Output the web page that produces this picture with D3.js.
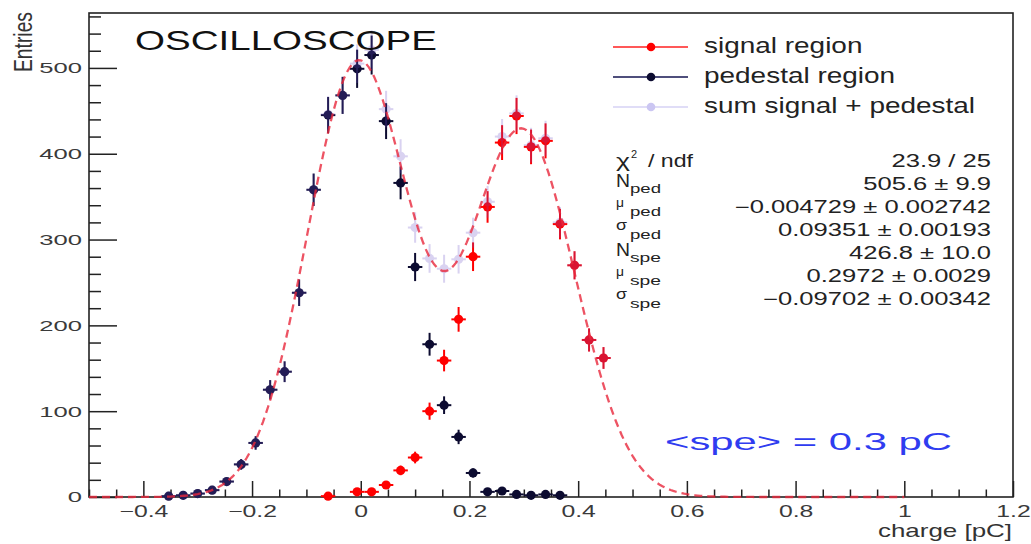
<!DOCTYPE html>
<html>
<head>
<meta charset="utf-8">
<script src="https://cdn.jsdelivr.net/npm/d3@7"></script>
<style>
  body { margin: 0; background: #fff; }
  svg { display: block; font-family: "Liberation Sans", Arial, sans-serif; }
</style>
</head>
<body>
<svg id="chart" width="1031" height="544"></svg>
<script>
// ---- data ----
var binCenters = [-0.3534, -0.3267, -0.3001, -0.2734, -0.2467, -0.2201, -0.1934, -0.1667,
  -0.1401, -0.1134, -0.0867, -0.0601, -0.0334, -0.0067, 0.0200, 0.0466, 0.0733, 0.1000,
  0.1266, 0.1533, 0.1800, 0.2066, 0.2333, 0.2600, 0.2866, 0.3133, 0.3400, 0.3666,
  0.3933, 0.4200, 0.4466];
var binHalfWidth = 0.0133;

var pedestalCounts = [1, 2, 4, 8, 18, 38, 63, 125, 146, 238, 358, 445, 468, 499, 515, 438,
  366, 268, 178, 107, 70, 28, 6, 7, 3, 2, 3, 2, null, null, null];
var pedestalErrors = [1, 1.4, 2, 2.8, 4.2, 6.2, 7.9, 11.2, 12.1, 15.4, 18.9, 21.1, 21.6, 22.3,
  22.7, 20.9, 19.1, 16.4, 13.3, 10.3, 8.4, 5.3, 2.4, 2.6, 1.7, 1.4, 1.7, 1.4, null, null, null];

var signalCounts = [null, null, null, null, null, null, null, null, null, null, null, 1, null,
  6, 6, 14, 31, 46, 100, 159, 207, 280, 338, 413, 444, 408, 415, 318, 270, 183, 162];
var signalErrors = [null, null, null, null, null, null, null, null, null, null, null, 1, null,
  2.4, 2.4, 3.7, 5.6, 6.8, 10, 12.6, 14.4, 16.7, 18.4, 20.3, 21.1, 20.2, 20.4, 17.8, 16.4,
  13.5, 12.7];

var sumCounts = [1, 2, 4, 8, 18, 38, 63, 125, 146, 238, 358, 446, 468, 505, 521, 452, 397,
  314, 278, 266, 277, 308, 344, 420, 447, 410, 418, 320, 270, 183, 162];
var sumErrors = [1, 1.4, 2, 2.8, 4.2, 6.2, 7.9, 11.2, 12.1, 15.4, 18.9, 21.1, 21.6, 22.5, 22.8,
  21.3, 19.9, 17.7, 16.7, 16.3, 16.6, 17.5, 18.5, 20.5, 21.1, 20.2, 20.4, 17.9, 16.4, 13.5, 12.7];

// fit parameters from the stats box
var Nped = 505.6, muPed = -0.004729, sigmaPed = 0.09351;
var Nspe = 426.8, muSpe = 0.2972, sigmaSpe = 0.09702;
var fitRange = [-0.5, 1.0];

var xTicks = [-0.4, -0.2, 0, 0.2, 0.4, 0.6, 0.8, 1, 1.2];
var yTicks = [0, 100, 200, 300, 400, 500];

var legendLabels = ["signal region", "pedestal region", "sum signal + pedestal"];
var statSymbols = ["N", "\u03bc", "\u03c3", "N", "\u03bc", "\u03c3"];
var statSubs = ["ped", "ped", "ped", "spe", "spe", "spe"];
var statValues = ["23.9 / 25", "505.6 \u00b1 9.9", "\u22120.004729 \u00b1 0.002742",
  "0.09351 \u00b1 0.00193", "426.8 \u00b1 10.0", "0.2972 \u00b1 0.0029",
  "\u22120.09702 \u00b1 0.00342"];

// ---- drawing ----
var svg = d3.select("#chart");
var x = d3.scaleLinear().domain([-0.5, 1.2]).range([89, 1013]);
var y = d3.scaleLinear().domain([0, 564]).range([497, 13]);

var red = "#ff0000", navy = "#0c0b30", lav = "#6a50c8";

// text in the picture is wide, stretch it horizontally
function stretch(sel, sx) {
  sel.each(function() {
    var w = this.getComputedTextLength();
    d3.select(this).attr("textLength", w * sx).attr("lengthAdjust", "spacingAndGlyphs");
  });
}
function fitWidth(sel, w) {
  sel.attr("textLength", w).attr("lengthAdjust", "spacingAndGlyphs");
}

// axes
var yMinor = d3.range(0, 561, 20).filter(function(v) { return v % 100 !== 0; });
var xMinor = d3.range(-50, 121, 5).map(function(v) { return v / 100; })
  .filter(function(v) { return Math.round(v * 100) % 20 !== 0; });

var gy = svg.append("g").attr("transform", "translate(89,0)")
  .call(d3.axisLeft(y).tickValues(yTicks).tickSizeInner(-28).tickSizeOuter(0)
    .tickPadding(7).tickFormat(d3.format("d")));
svg.append("g").attr("transform", "translate(89,0)")
  .call(d3.axisLeft(y).tickValues(yMinor).tickSizeInner(-12).tickSizeOuter(0).tickFormat(""))
  .attr("class", "minor");

var gx = svg.append("g").attr("transform", "translate(0,497)")
  .call(d3.axisBottom(x).tickValues(xTicks).tickSizeInner(-16).tickSizeOuter(0)
    .tickPadding(8).tickFormat(d3.format("~g")));
svg.append("g").attr("transform", "translate(0,497)")
  .call(d3.axisBottom(x).tickValues(xMinor).tickSizeInner(-7.5).tickSizeOuter(0).tickFormat(""))
  .attr("class", "minor");

svg.selectAll(".domain").remove();
svg.selectAll(".tick line").attr("stroke", "#222").attr("stroke-width", 1.5);
gy.selectAll("text").attr("font-size", 15.5).attr("fill", "#3a3a3a")
  .attr("font-family", "Liberation Sans, Arial, sans-serif");
gx.selectAll("text").attr("font-size", 16.5).attr("fill", "#3a3a3a")
  .attr("font-family", "Liberation Sans, Arial, sans-serif");
stretch(gy.selectAll("text"), 1.65);
stretch(gx.selectAll("text"), 1.5);

// frame
svg.append("rect").attr("x", 89).attr("y", 13).attr("width", 1013 - 89).attr("height", 497 - 13)
  .attr("fill", "none").attr("stroke", "#222").attr("stroke-width", 1.6);

// axis titles
fitWidth(svg.append("text").attr("x", 1012).attr("y", 537).attr("text-anchor", "end")
  .attr("font-size", 19).attr("fill", "#333").text("charge [pC]"), 134);
fitWidth(svg.append("text").attr("transform", "translate(32,12) rotate(-90) scale(1,1.45)")
  .attr("text-anchor", "end").attr("font-size", 18).attr("fill", "#333").text("Entries"), 60);

// points with error bars
function drawSeries(counts, errs, color, opacity) {
  var pts = binCenters.map(function(c, i) { return {c: c, n: counts[i], e: errs[i]}; })
    .filter(function(d) { return d.n != null; });
  var g = svg.append("g").attr("opacity", opacity);
  var p = g.selectAll("g").data(pts).enter().append("g");
  p.append("line")
    .attr("x1", function(d) { return x(d.c); }).attr("x2", function(d) { return x(d.c); })
    .attr("y1", function(d) { return y(Math.max(0, d.n - d.e)); })
    .attr("y2", function(d) { return y(d.n + d.e); })
    .attr("stroke", color).attr("stroke-width", 2);
  p.append("line")
    .attr("x1", function(d) { return x(d.c - binHalfWidth); })
    .attr("x2", function(d) { return x(d.c + binHalfWidth); })
    .attr("y1", function(d) { return y(d.n); }).attr("y2", function(d) { return y(d.n); })
    .attr("stroke", color).attr("stroke-width", 2);
  p.append("circle").attr("cx", function(d) { return x(d.c); })
    .attr("cy", function(d) { return y(d.n); }).attr("r", 4.6).attr("fill", color);
}
drawSeries(pedestalCounts, pedestalErrors, navy, 1);
drawSeries(signalCounts, signalErrors, red, 1);
drawSeries(sumCounts, sumErrors, lav, 0.25);

// fit curve (double gaussian with the fitted parameters)
function fitFunc(q) {
  return Nped * Math.exp(-0.5 * Math.pow((q - muPed) / sigmaPed, 2)) +
    Nspe * Math.exp(-0.5 * Math.pow((q - muSpe) / sigmaSpe, 2));
}
var curveX = d3.range(0, 301).map(function(i) { return fitRange[0] + i * (fitRange[1] - fitRange[0]) / 300; });
svg.append("path").datum(curveX)
  .attr("d", d3.line().x(function(q) { return x(q); }).y(function(q) { return y(fitFunc(q)); }))
  .attr("fill", "none").attr("stroke", "#e8283c").attr("stroke-width", 2.3)
  .attr("stroke-dasharray", "8,5").attr("opacity", 0.8);

// title and annotation
fitWidth(svg.append("text").attr("x", 135).attr("y", 50).attr("font-size", 28)
  .attr("fill", "#111").text("OSCILLOSCOPE"), 302);
fitWidth(svg.append("text").attr("x", 665).attr("y", 450).attr("font-size", 24)
  .attr("fill", "#2f3cf0").text("<spe> = 0.3 pC"), 287);

// legend
var legColors = [red, navy, "#cbc6f2"];
var legLine = ["#ff2020", "#141450", "#d6d2f4"];
var legY = [47, 77, 107];
var lg = svg.append("g");
legendLabels.forEach(function(t, i) {
  lg.append("line").attr("x1", 613).attr("x2", 688).attr("y1", legY[i]).attr("y2", legY[i])
    .attr("stroke", legLine[i]).attr("stroke-width", 1.6);
  lg.append("circle").attr("cx", 651).attr("cy", legY[i]).attr("r", 4.3).attr("fill", legColors[i]);
  var tx = lg.append("text").attr("x", 704).attr("y", legY[i] + 6).attr("font-size", 22)
    .attr("fill", "#222").text(t);
  stretch(tx, 1.27);
});

// stats box
var sg = svg.append("g").attr("fill", "#222");
var chi = sg.append("text").attr("x", 616).attr("y", 167).attr("font-size", 19).text("\u03c7");
fitWidth(chi, 14);
sg.append("text").attr("x", 631).attr("y", 158).attr("font-size", 11).text("2");
fitWidth(sg.append("text").attr("x", 648).attr("y", 167).attr("font-size", 17.5).text("/ ndf"), 45);
var symStyle = {"N": [19, -3, 14], "\u03bc": [13, -6, 8], "\u03c3": [15, -6, 11]};
statSymbols.forEach(function(s, i) {
  var b = 190 + 23 * i, st = symStyle[s];
  fitWidth(sg.append("text").attr("x", 616).attr("y", b + st[1]).attr("font-size", st[0]).text(s), st[2]);
  fitWidth(sg.append("text").attr("x", 630).attr("y", b + 3).attr("font-size", 12).text(statSubs[i]), 31);
});
statValues.forEach(function(v, i) {
  var t = sg.append("text").attr("x", 991).attr("y", 167 + 23 * i).attr("text-anchor", "end")
    .attr("font-size", 17.5).text(v);
  stretch(t, 1.46);
});
</script>
</body>
</html>
